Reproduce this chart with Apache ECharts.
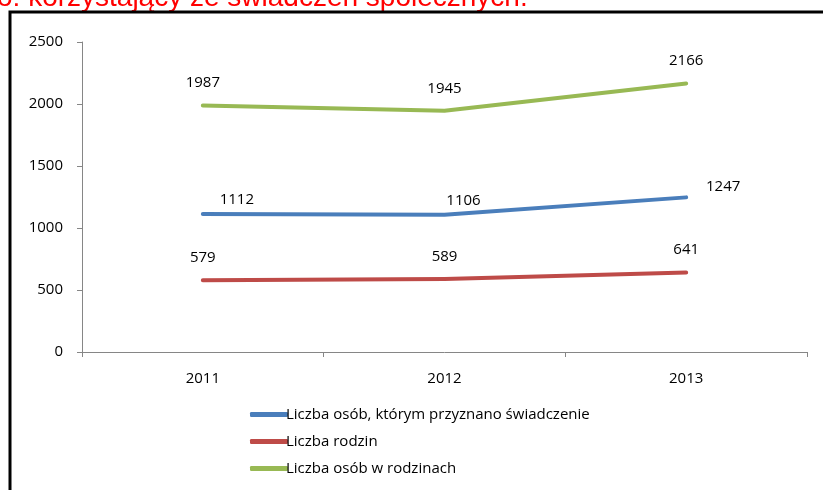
<!DOCTYPE html>
<html>
<head>
<meta charset="utf-8">
<style>
  html, body { margin: 0; padding: 0; background: #fff; }
  #chart { width: 823px; height: 490px; }
</style>
<script src="https://cdn.jsdelivr.net/npm/echarts@6/dist/echarts.min.js"></script>
</head>
<body>
<div id="chart"></div>
<script>
// Years on the category axis
const years = ['2011', '2012', '2013'];

// Series values
const seriesNames = [
  'Liczba osób, którym przyznano świadczenie',
  'Liczba rodzin',
  'Liczba osób w rodzinach'
];
const beneficiaries = [1112, 1106, 1247];
const families = [579, 589, 641];
const familyMembers = [1987, 1945, 2166];

// Value axis ticks
const yMin = 0;
const yMax = 2500;
const yStep = 500;

const colors = ['#4A7EBB', '#BE4B48', '#98B954'];
const labelFont = { fontFamily: '"Open Sans", "Noto Sans", sans-serif', fontSize: 15, color: '#000' };

// The beneficiaries' labels sit lower and to the right of the default spot
const beneficiaryLabelShift = [[34, 8], [19, 8], [37, 12]];

const chart = echarts.init(document.getElementById('chart'), null, { renderer: 'canvas' });

function lineSeries(name, values, color, shifts) {
  return {
    name: name,
    type: 'line',
    data: values.map((v, i) => shifts
      ? { value: v, label: { offset: shifts[i] } }
      : v),
    showSymbol: true,
    symbol: 'circle',
    symbolSize: 0,
    lineStyle: { color: color, width: 4, cap: 'round', join: 'round' },
    itemStyle: { color: color },
    label: Object.assign({ show: true, position: 'top', distance: 15 }, labelFont),
    silent: true,
    animation: false
  };
}

chart.setOption({
  animation: false,
  grid: { left: 82, right: 16, top: 42, bottom: 138, containLabel: false },
  graphic: [
    {
      type: 'text',
      left: -3,
      top: -16,
      style: {
        text: 'o: korzystający ze świadczeń społecznych.',
        font: '28px "Liberation Sans", Arial, sans-serif',
        fill: '#FF0000'
      },
      z: 10
    },
    {
      type: 'rect',
      shape: { x: 10, y: 12, width: 900, height: 600 },
      style: { fill: 'none', stroke: '#000', lineWidth: 3 },
      z: 10
    }
  ],
  legend: {
    orient: 'vertical',
    left: 245,
    top: 402,
    itemWidth: 38,
    itemHeight: 5,
    itemGap: 12,
    icon: 'roundRect',
    textStyle: Object.assign({ lineHeight: 15, padding: [0, 0, 0, -7] }, labelFont),
    data: seriesNames,
    selectedMode: false
  },
  xAxis: {
    type: 'category',
    data: years,
    boundaryGap: true,
    axisLine: { lineStyle: { color: '#868686', width: 1 } },
    axisTick: { show: true, length: 5, inside: false, lineStyle: { color: '#868686' } },
    axisLabel: Object.assign({ margin: 19 }, labelFont),
    splitLine: { show: false }
  },
  yAxis: {
    type: 'value',
    min: yMin,
    max: yMax,
    interval: yStep,
    axisLine: { show: true, lineStyle: { color: '#868686', width: 1 } },
    axisTick: { show: true, length: 5, lineStyle: { color: '#868686' } },
    axisLabel: Object.assign({ margin: 19, formatter: (v) => String(v) }, labelFont),
    splitLine: { show: false }
  },
  series: [
    lineSeries(seriesNames[0], beneficiaries, colors[0], beneficiaryLabelShift),
    lineSeries(seriesNames[1], families, colors[1]),
    lineSeries(seriesNames[2], familyMembers, colors[2])
  ]
});
</script>
</body>
</html>
